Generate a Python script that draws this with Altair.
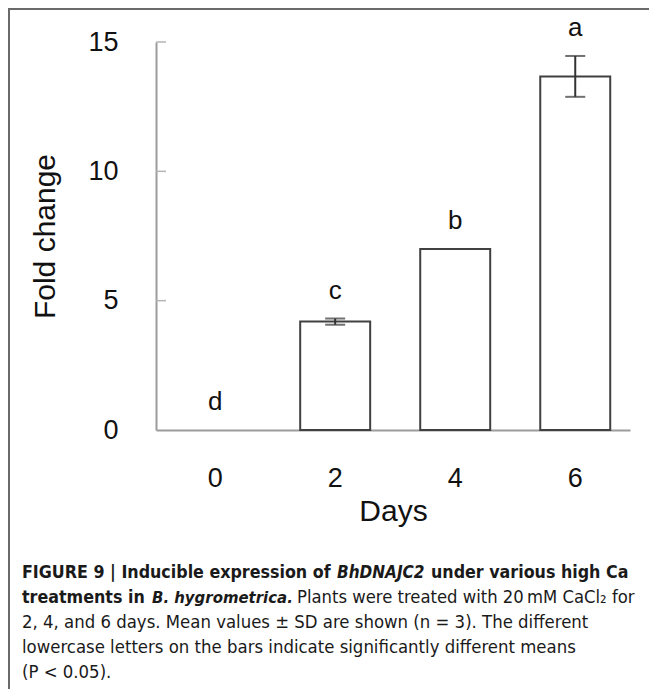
import altair as alt
import pandas as pd

# ---- data ----
days = ["0", "2", "4", "6"]
fold_change = [0.0, 4.19, 7.0, 13.67]
sd = [0.0, 0.12, 0.0, 0.79]
letters = ["d", "c", "b", "a"]
y_tick_values = [0, 5, 10, 15]
inner_ticks = [5, 10, 15]

caption_segments = [
    # (text, weight, style, size, x_page, baseline_page)
    ("FIGURE 9 | Inducible expression of", "bold", "normal", 17.7, 22, 578),
    ("BhDNAJC2", "bold", "italic", 17, 337, 578),
    ("under various high Ca", "bold", "normal", 17.7, 431, 578),
    ("treatments in", "bold", "normal", 17.7, 22, 603),
    ("B. hygrometrica.", "bold", "italic", 16.6, 152, 603),
    ("Plants were treated with 20\u2009mM CaCl\u2082 for", "normal", "normal", 18.3, 297, 603),
    ("2, 4, and 6 days. Mean values \u00b1 SD are shown (n = 3). The different", "normal", "normal", 18.4, 22, 628),
    ("lowercase letters on the bars indicate significantly different means", "normal", "normal", 18.4, 22, 653),
    ("(P < 0.05).", "normal", "normal", 18.4, 22, 678),
]

df = pd.DataFrame({"day": days, "fc": fold_change, "sd": sd, "letter": letters})
df["lo"] = df["fc"] - df["sd"]
df["hi"] = df["fc"] + df["sd"]
ticks_df = pd.DataFrame({"v": inner_ticks})

W, H = 474, 388
OX, OY = 156, 42  # page position of plot origin
FONT = "Liberation Sans"
CAP_FONT = "DejaVu Sans Condensed, Liberation Sans"

xscale = alt.Scale(domain=days, paddingInner=0.417, paddingOuter=0.183, align=0.55)
yscale = alt.Scale(domain=[0, 15], nice=False, zero=True)

x_axis = alt.Axis(
    title="Days", labelAngle=0, ticks=False, tickSize=0, labelPadding=35,
    labelFontSize=27, labelFont=FONT, labelColor="#111", labelBaseline="top",
    titleFontSize=30, titleFont=FONT, titleFontWeight="normal", titleColor="#111",
    titleX=W / 2, titleY=90, titleBaseline="alphabetic", titleAlign="center",
    domainColor="#9c9c9c", domainWidth=2, grid=False,
)
y_axis = alt.Axis(
    title="Fold change", values=y_tick_values, ticks=False, tickSize=0,
    labelPadding=38, labelFontSize=27, labelFont=FONT, labelColor="#111",
    titleFontSize=30, titleFont=FONT, titleFontWeight="normal", titleColor="#111",
    titleX=-102, titleY=H / 2, titleAngle=-90, titleAlign="center",
    titleBaseline="alphabetic", grid=False,
    domainColor="#9c9c9c", domainWidth=2,
)

x_enc = alt.X("day:N", sort=days, scale=xscale, axis=x_axis)
x_plain = alt.X("day:N", sort=days, scale=xscale)

base = alt.Chart(df)

bars = base.transform_filter("datum.fc > 0").mark_bar(
    fill="white", stroke="#404040", strokeWidth=2
).encode(
    x=x_enc,
    y=alt.Y("fc:Q", scale=yscale, axis=y_axis),
)

err = base.transform_filter("datum.sd > 0").mark_rule(color="#333", strokeWidth=2).encode(
    x=x_plain, y=alt.Y("lo:Q", scale=yscale), y2="hi:Q"
)
cap_lo = base.transform_filter("datum.sd > 0").mark_tick(color="#333", thickness=2, size=20).encode(
    x=x_plain, y=alt.Y("lo:Q", scale=yscale)
)
cap_hi = base.transform_filter("datum.sd > 0").mark_tick(color="#333", thickness=2, size=20).encode(
    x=x_plain, y=alt.Y("hi:Q", scale=yscale)
)

labels = base.mark_text(
    dy=-20, baseline="alphabetic", fontSize=26, font=FONT, color="#111"
).encode(x=x_plain, y=alt.Y("hi:Q", scale=yscale), text="letter:N")

inner = alt.Chart(ticks_df).mark_rule(color="#b5b5b5", strokeWidth=1.5).encode(
    y=alt.Y("v:Q", scale=yscale), x=alt.value(0), x2=alt.value(10)
)

border = alt.Chart(pd.DataFrame({"a": [1]})).mark_rect(
    fillOpacity=0, stroke="#6a6a6a", strokeWidth=2
).encode(
    x=alt.value(8 - OX + 1), x2=alt.value(W + 200),
    y=alt.value(8 - OY + 1), y2=alt.value(H + 500),
)

caption_layers = []
for text, weight, style, size, xp, yp in caption_segments:
    caption_layers.append(
        alt.Chart(pd.DataFrame({"t": [text]})).mark_text(
            align="left", baseline="alphabetic", fontSize=size, font=CAP_FONT,
            fontWeight=weight, fontStyle=style, color="#1a1a1a",
        ).encode(text="t:N", x=alt.value(xp - OX), y=alt.value(yp - OY))
    )

chart = alt.layer(bars, err, cap_lo, cap_hi, labels, inner, border, *caption_layers).properties(
    width=W, height=H,
    autosize=alt.AutoSizeParams(type="none"),
    padding={"left": OX - 8, "top": OY - 8, "right": 657 - 8 - OX - W, "bottom": 697 - 8 - OY - H},
    background="white",
).configure_view(stroke=None)

chart.save("out.html", embed_options={"renderer": "svg", "actions": False})
